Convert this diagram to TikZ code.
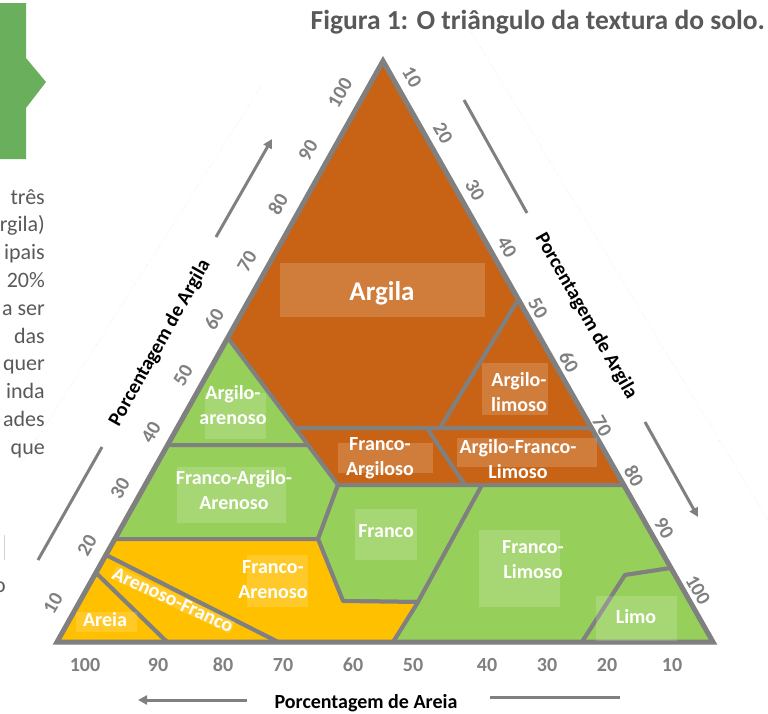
\documentclass[tikz,border=0pt]{standalone}
\usepackage{fontspec}
\setmainfont{Carlito}
\usetikzlibrary{arrows.meta}
\definecolor{argila}{RGB}{200,99,22}
\definecolor{franco}{RGB}{150,208,90}
\definecolor{areia}{RGB}{255,192,0}
\definecolor{linha}{RGB}{128,128,128}
\definecolor{texto}{RGB}{89,89,89}
\definecolor{seta}{RGB}{106,176,92}

\begin{document}
\begin{tikzpicture}[x=1pt,y=-1pt]
  \tikzstyle{zona}=[draw=linha,line width=4pt,line join=round]
  \tikzstyle{caixa}=[fill=white,fill opacity=0.16]
  \tikzstyle{rot}=[text=white,font=\fontsize{20}{25}\selectfont\bfseries,align=center,inner sep=0]
  \tikzstyle{num}=[text=linha,font=\fontsize{20}{24}\selectfont\bfseries,inner sep=0]
  \tikzstyle{eixo}=[font=\fontsize{20}{24}\selectfont\bfseries,inner sep=0]
  \tikzstyle{par}=[text=texto,font=\fontsize{22}{28}\selectfont,anchor=base east,inner sep=0]
  \tikzstyle{guia}=[draw=linha,line width=3pt]

  \useasboundingbox (0,0) rectangle (768,713);

  % vertices of the triangle and of the classes
  \coordinate (A) at (57,642);
  \coordinate (B) at (713,642);
  \coordinate (C) at (383,61);
  \coordinate (L1) at (96,573);
  \coordinate (L2) at (106,555);
  \coordinate (L3) at (115,539);
  \coordinate (L4) at (168,445);
  \coordinate (L5) at (228,338);
  \coordinate (R1) at (518,300);
  \coordinate (R2) at (591,428);
  \coordinate (R3) at (624,485);
  \coordinate (R4) at (671,568);
  \coordinate (B1) at (167,642);
  \coordinate (B2) at (278,642);
  \coordinate (B3) at (393,642);
  \coordinate (B4) at (582,642);
  \coordinate (P1) at (295,428);
  \coordinate (P2) at (308,445);
  \coordinate (P3) at (338,485);
  \coordinate (P4) at (318,539);
  \coordinate (P5) at (343,601);
  \coordinate (P6) at (418,602);
  \coordinate (P7) at (482,485);
  \coordinate (P8) at (427,428);
  \coordinate (P9) at (465,485);
  \coordinate (P10) at (440,428);
  \coordinate (Q) at (625,575);

  \filldraw[zona,fill=argila] (C) -- (L5) -- (P1) -- (P10) -- (R1) -- cycle;
  \filldraw[zona,fill=argila] (R1) -- (P10) -- (R2) -- cycle;
  \filldraw[zona,fill=argila] (P1) -- (P8) -- (P9) -- (P3) -- (P2) -- cycle;
  \filldraw[zona,fill=argila] (P8) -- (R2) -- (R3) -- (P9) -- cycle;
  \filldraw[zona,fill=franco] (L5) -- (P2) -- (L4) -- cycle;
  \filldraw[zona,fill=franco] (L4) -- (P2) -- (P3) -- (P4) -- (L3) -- cycle;
  \filldraw[zona,fill=franco] (P3) -- (P7) -- (P6) -- (P5) -- (P4) -- cycle;
  \filldraw[zona,fill=franco] (P7) -- (R3) -- (R4) -- (Q) -- (B4) -- (B3) -- (P6) -- cycle;
  \filldraw[zona,fill=franco] (Q) -- (R4) -- (B) -- (B4) -- cycle;
  \filldraw[zona,fill=areia] (L3) -- (P4) -- (P5) -- (P6) -- (B3) -- (B2) -- (L2) -- cycle;
  \filldraw[zona,fill=areia] (L2) -- (B2) -- (B1) -- (L1) -- cycle;
  \filldraw[zona,fill=areia] (L1) -- (B1) -- (A) -- cycle;
  \draw[draw=linha,line width=5pt,line join=miter] (A) -- (B) -- (C) -- cycle;

  % light boxes behind the names
  \fill[caixa] (280,263) rectangle (485,317);
  \fill[caixa] (205,393) rectangle (266,439);
  \fill[caixa] (482,363) rectangle (548,415);
  \fill[caixa] (338,443) rectangle (433,473);
  \fill[caixa] (457,438) rectangle (597,467);
  \fill[caixa] (177,467) rectangle (286,523);
  \fill[caixa] (355,509) rectangle (417,560);
  \fill[caixa] (247,555) rectangle (308,607);
  \fill[caixa] (479,530) rectangle (560,607);
  \fill[caixa] (596,596) rectangle (677,641);
  \fill[caixa] (76,612) rectangle (137,632);

  \node[rot,font=\fontsize{27}{30}\selectfont\bfseries] (ag) at (382,293) {Argila};
  \node[rot] (aa) at (233,405) {Argilo-\\arenoso};
  \node[rot] (al) at (519,392) {Argilo-\\limoso};
  \node[rot] (fa) at (380,458) {Franco-\\Argiloso};
  \node[rot] (afl) at (518,459) {Argilo-Franco-\\Limoso};
  \node[rot] (faa) at (234,490) {Franco-Argilo-\\Arenoso};
  \node[rot] (fr) at (386,531) {Franco};
  \node[rot] (far) at (273,580) {Franco-\\Arenoso};
  \node[rot] (fl) at (533,560) {Franco-\\Limoso};
  \node[rot] (li) at (636,617) {Limo};
  \node[rot] (ar) at (105,620) {Areia};
  \node[rot,rotate=-25,fill=white,fill opacity=0.16,text opacity=1] (arf) at (173,600) {Arenoso-Franco};

  % scales
  \foreach \n/\x/\y in {10/53/603,20/87/545,30/120/488,40/151/432,50/183/375,
                         60/214/319,70/247/261,80/278/204,90/308/150,100/340/93}
    \node[num,rotate=60] (e\n) at (\x,\y) {\n};
  \foreach \n/\x/\y in {10/412/77,20/443/133,30/475/190,40/507/247,50/538/308,
                         60/569/362,70/602/426,80/634/476,90/664/528,100/698/590}
    \node[num,rotate=-60] (d\n) at (\x,\y) {\n};
  \foreach \n/\x in {100/85,90/158,80/223,70/283,60/353,50/413,40/487,30/547,20/607,10/672}
    \node[num] (b\n) at (\x,665) {\n};

  \node[eixo,rotate=60.7] (tesq) at (160,343) {Porcentagem de Argila};
  \node[eixo,rotate=-60.3] (tdir) at (586,316) {Porcentagem de Argila};
  \node[eixo] (tbai) at (366,703) {Porcentagem de Areia};

  \coordinate (e1) at (38,560);  \coordinate (e2) at (102,447);
  \coordinate (e3) at (216,237); \coordinate (e4) at (272,139);
  \coordinate (d1) at (464,100); \coordinate (d2) at (527,213);
  \coordinate (d3) at (645,422); \coordinate (d4) at (698,517);
  \coordinate (b1) at (247,700); \coordinate (b2) at (138,700);
  \coordinate (b3) at (490,697); \coordinate (b4) at (620,697);
  \draw[guia] (e1) -- (e2);
  \draw[guia,-{Triangle[length=9pt,width=9pt]}] (e3) -- (e4);
  \draw[guia] (d1) -- (d2);
  \draw[guia,-{Triangle[length=9pt,width=9pt]}] (d3) -- (d4);
  \draw[guia,-{Triangle[length=9pt,width=9pt]}] (b1) -- (b2);
  \draw[guia] (b3) -- (b4);

  % title, tab and cut text of the page
  \node[anchor=east,text=texto,font=\fontsize{27.5}{32}\selectfont\bfseries,inner sep=0] (tit) at (765,22)
    {Figura 1: O triângulo da textura do solo.};
  \fill[seta] (0,3) -- (26,3) -- (26,58) -- (46,82) -- (26,108) -- (26,159) -- (0,159) -- cycle;
  \foreach \t [count=\i from 0] in {três,rgila),ipais,20\%,a ser,das,quer,inda,ades,que}
    \node[par] (p\i) at (45,204+27.8*\i) {\t};
  \node[par] (p10) at (6,592) {o};
  \draw[gray!35,line width=.6pt] (4,535) -- (4,560);
  \draw[gray!25,line width=.5pt,dotted] (262,85) -- (20,465);
  \draw[gray!25,line width=.5pt,dotted] (470,30) -- (768,520);
\end{tikzpicture}
\end{document}
